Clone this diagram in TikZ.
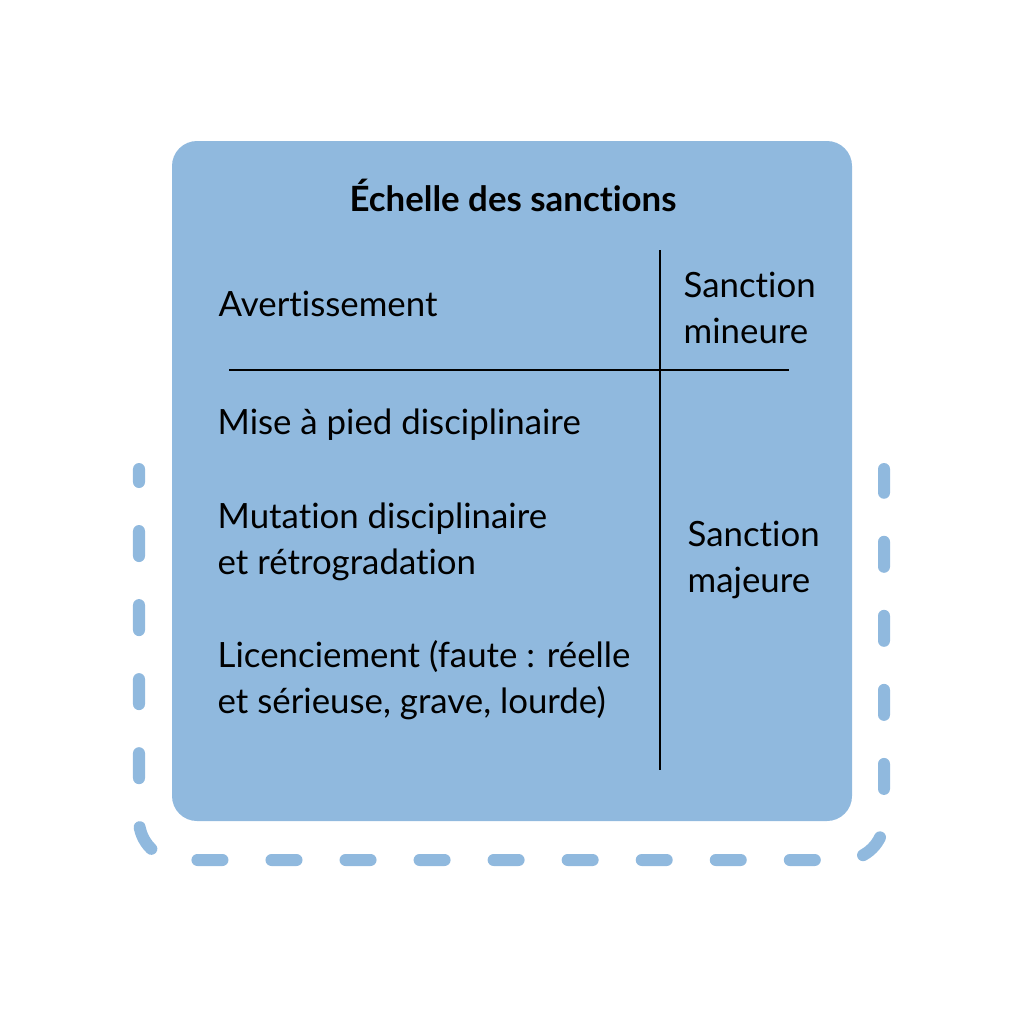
\documentclass[tikz,border=0pt]{standalone}
\usepackage{fontspec}
\setmainfont{Lato}[Ligatures=NoCommon]
\usepackage{xcolor}
\usetikzlibrary{positioning}
\definecolor{boxblue}{HTML}{90B9DE}
\begin{document}
\begin{tikzpicture}[x=0.01cm, y=-0.01cm,
    label/.style={anchor=west, align=left, inner sep=0pt, font=\fontsize{9.9}{13.1}\selectfont},
    rule/.style={line width=0.02cm, black}]
    % Canvas
    \useasboundingbox (0,0) rectangle (1024,1024);
    
    % Dashed frame
    \draw[boxblue, line width=0.12cm, line cap=round, rounded corners=0.4cm,
        dash pattern=on 0.25cm off 0.49cm, dash phase=0.12cm]
        (139,469) -- (139,860) -- (884,860) -- (884,469);
    
    % Box
    \fill[boxblue, rounded corners=0.25cm] (172,141) rectangle (852,821);
    
    % Title
    \node[label, anchor=center, font=\fontsize{9.9}{13.1}\selectfont\bfseries] (title) at (513,195) {Échelle des sanctions};
    
    % Grid
    \coordinate (vtop) at (660,250); \coordinate (vbot) at (660,770);
    \coordinate (hleft) at (229,370); \coordinate (hright) at (789,370);
    \draw[rule] (vtop) -- (vbot);
    \draw[rule] (hleft) -- (hright);
    
    % Sanctions
    \node[label] (avert) at (218,304) {Avertissement};
    \node[label] (mise) at (217,425) {Mise à pied disciplinaire};
    \node[label] (mutation) at (217,542) {Mutation disciplinaire\\et rétrogradation};
    \node[label] (licen) at (217,680) {Licenciement (faute : réelle\\et sérieuse, grave, lourde)};
    
    % Categories
    \node[label] (mineure) at (683,308) {Sanction\\mineure};
    \node[label] (majeure) at (687,560) {Sanction\\majeure};
\end{tikzpicture}
\end{document}
